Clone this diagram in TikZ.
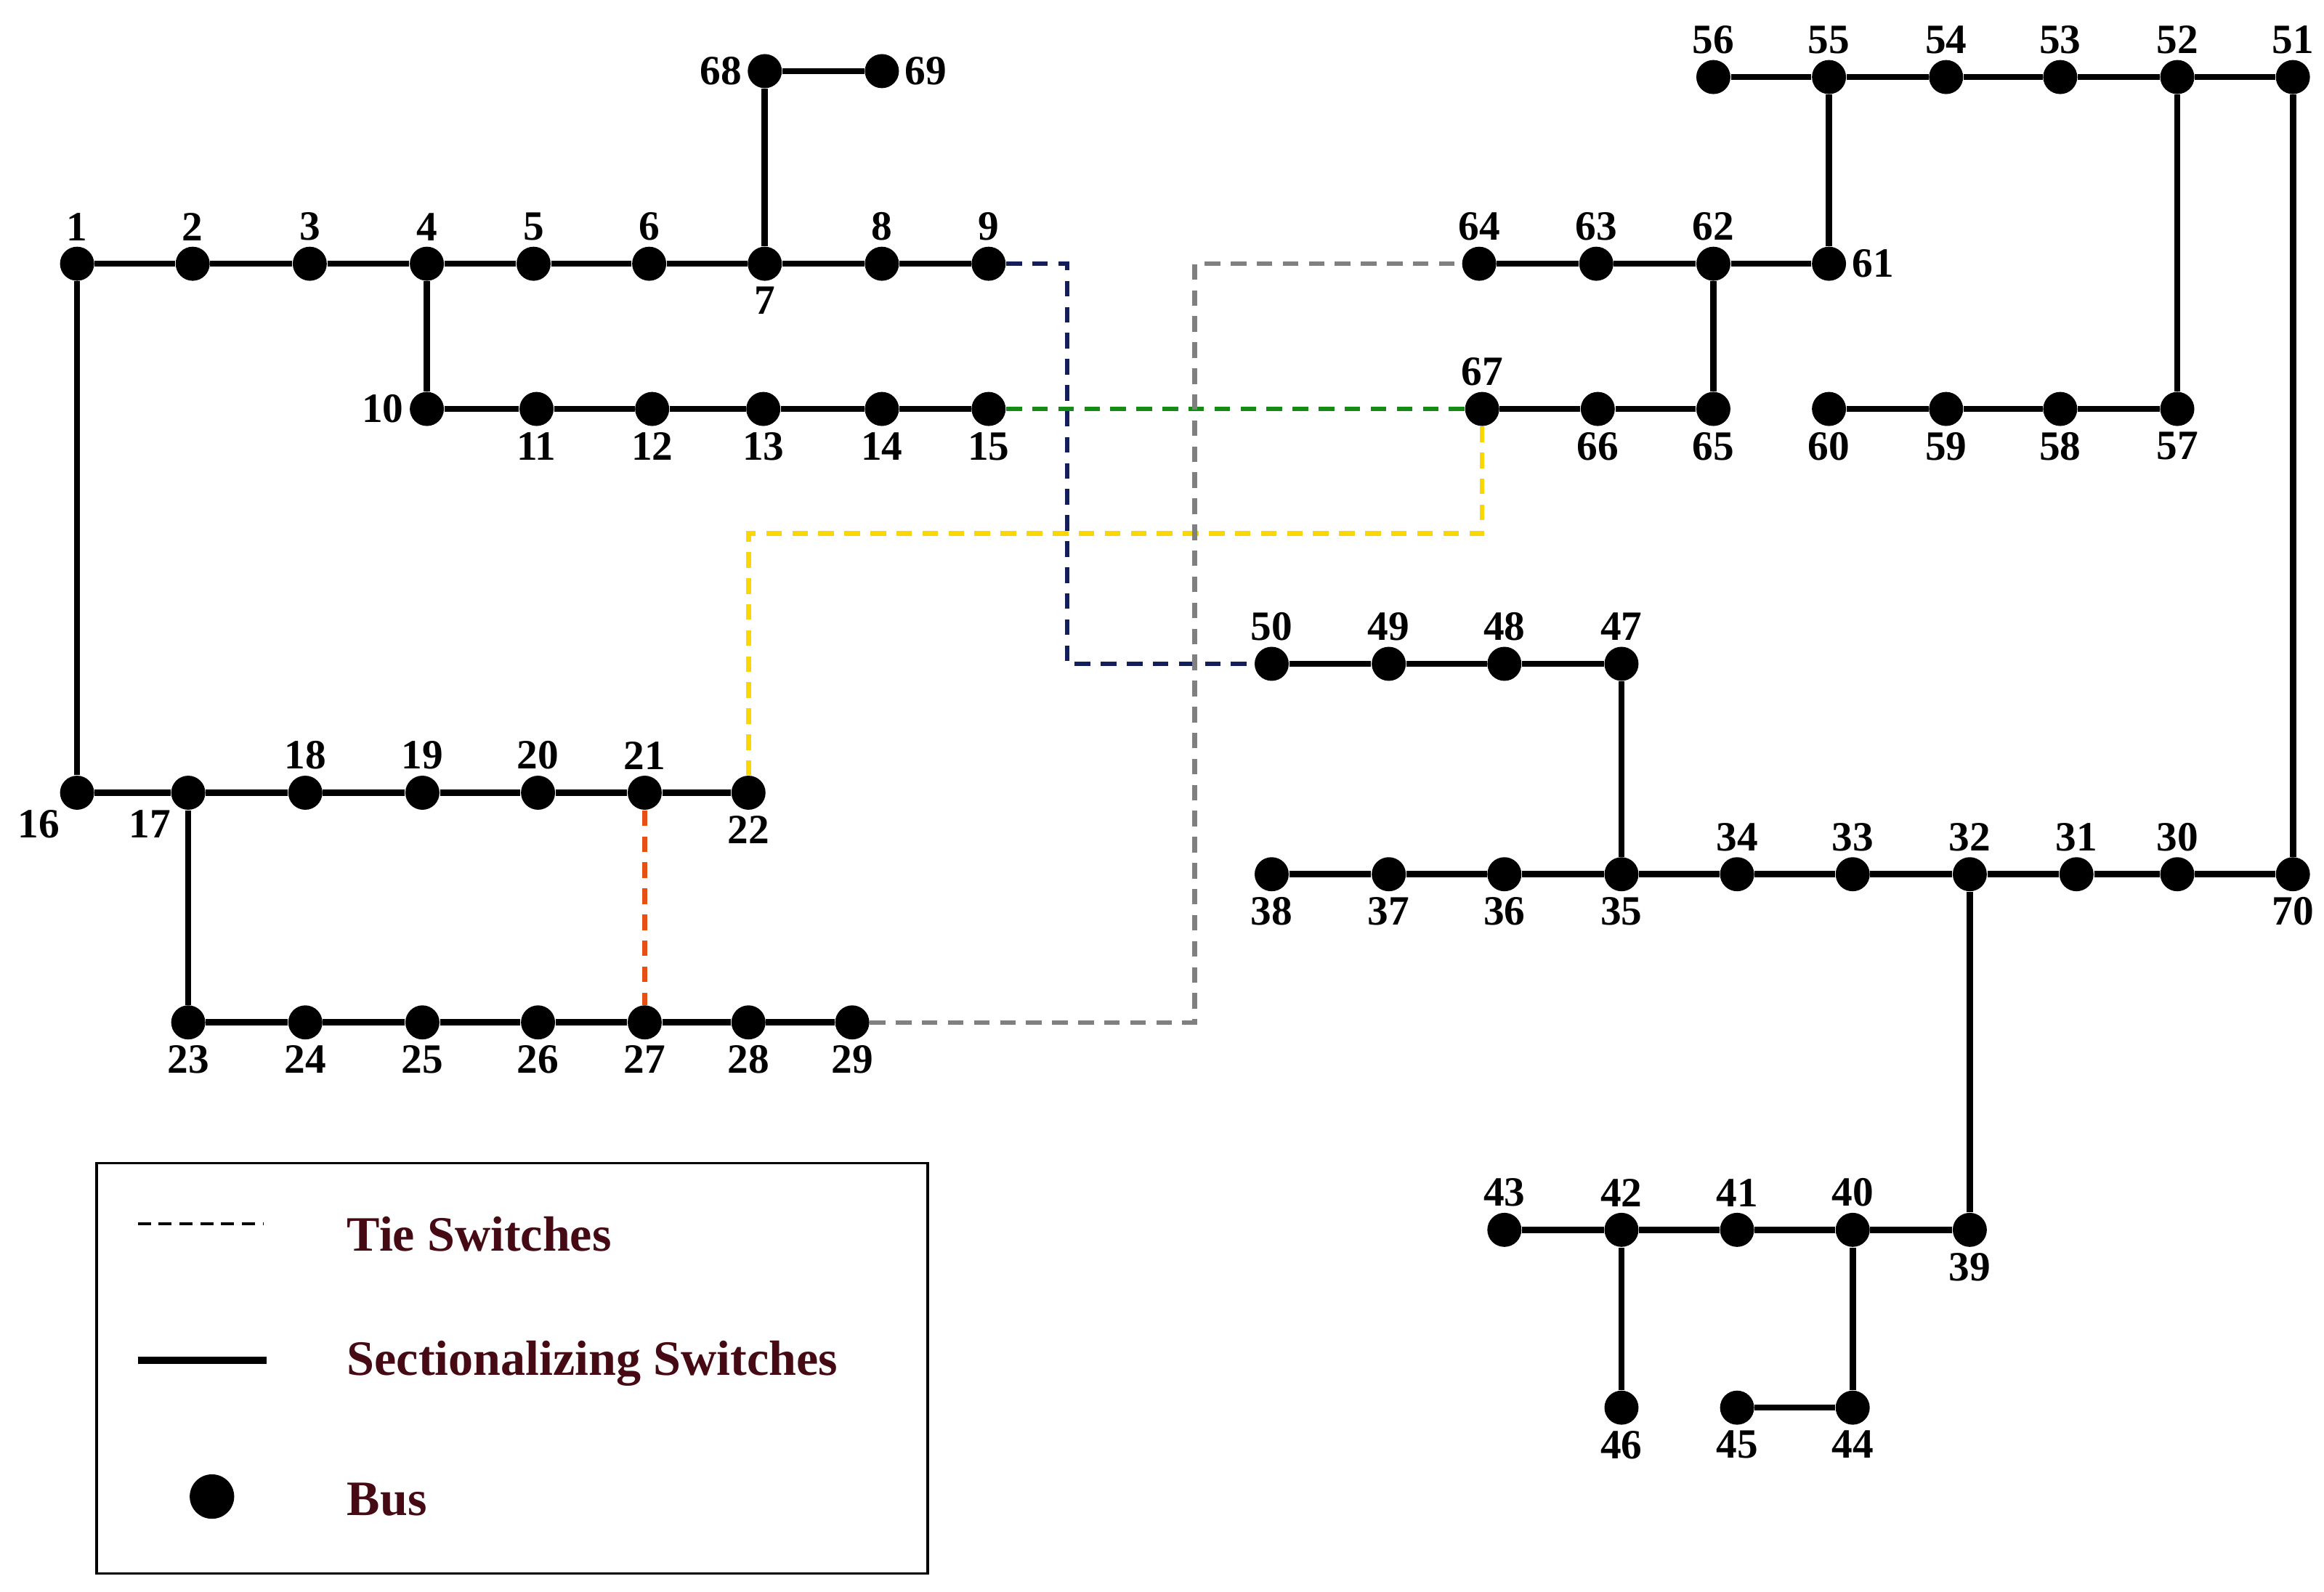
\documentclass[tikz,border=0pt]{standalone}
\usepackage{fontspec}
\setmainfont{Liberation Serif}
\begin{document}
\begin{tikzpicture}[x=0.02cm,y=-0.02cm,
  bus/.style={circle,fill=black,inner sep=0pt,minimum size=0.46cm},
  sec/.style={line width=2.4pt},
  tie/.style={line width=1.8pt,dash pattern=on 6pt off 4pt},
  every label/.style={font=\fontsize{16}{18}\selectfont\bfseries,inner sep=1pt},
  label distance=1pt]
\useasboundingbox (0,0) rectangle (1568,1074);
% buses
\foreach \n/\x/\y/\p in {1/52/178/above,2/130/178/above,3/209/178/above,4/288/178/above,
  5/360/178/above,6/438/178/above,7/516/178/below,8/595/178/above,9/667/178/above,
  68/516/48/left,69/595/48/right,
  10/288/276/left,11/362/276/below,12/440/276/below,13/515/276/below,14/595/276/below,15/667/276/below,
  16/52/535/below left,17/127/535/below left,18/206/535/above,19/285/535/above,20/363/535/above,21/435/535/above,22/505/535/below,
  23/127/690/below,24/206/690/below,25/285/690/below,26/363/690/below,27/435/690/below,28/505/690/below,29/575/690/below,
  50/858/448/above,49/937/448/above,48/1015/448/above,47/1094/448/above,
  38/858/590/below,37/937/590/below,36/1015/590/below,35/1094/590/below,34/1172/590/above,
  33/1250/590/above,32/1329/590/above,31/1401/590/above,30/1469/590/above,70/1547/590/below,
  43/1015/830/above,42/1094/830/above,41/1172/830/above,40/1250/830/above,39/1329/830/below,
  46/1094/950/below,45/1172/950/below,44/1250/950/below,
  64/998/178/above,63/1077/178/above,62/1156/178/above,61/1234/178/right,
  67/1000/276/above,66/1078/276/below,65/1156/276/below,
  60/1234/276/below,59/1313/276/below,58/1390/276/below,57/1469/276/below,
  56/1156/52/above,55/1234/52/above,54/1313/52/above,53/1390/52/above,52/1469/52/above,51/1547/52/above}
  \node[bus,label=\p:\n] (b\n) at (\x,\y) {};
% sectionalizing switches
\draw[sec] (b1) -- (b2) -- (b3) -- (b4) -- (b5) -- (b6) -- (b7) -- (b8) -- (b9);
\draw[sec] (b7) -- (b68) -- (b69);
\draw[sec] (b4) -- (b10) -- (b11) -- (b12) -- (b13) -- (b14) -- (b15);
\draw[sec] (b1) -- (b16) -- (b17) -- (b18) -- (b19) -- (b20) -- (b21) -- (b22);
\draw[sec] (b17) -- (b23) -- (b24) -- (b25) -- (b26) -- (b27) -- (b28) -- (b29);
\draw[sec] (b50) -- (b49) -- (b48) -- (b47) -- (b35);
\draw[sec] (b38) -- (b37) -- (b36) -- (b35) -- (b34) -- (b33) -- (b32) -- (b31) -- (b30) -- (b70) -- (b51);
\draw[sec] (b51) -- (b52) -- (b53) -- (b54) -- (b55) -- (b56);
\draw[sec] (b52) -- (b57) -- (b58) -- (b59) -- (b60);
\draw[sec] (b55) -- (b61) -- (b62) -- (b63) -- (b64);
\draw[sec] (b62) -- (b65) -- (b66) -- (b67);
\draw[sec] (b32) -- (b39) -- (b40) -- (b41) -- (b42) -- (b43);
\draw[sec] (b42) -- (b46);
\draw[sec] (b40) -- (b44) -- (b45);
% tie switches
\draw[tie,color={rgb,255:red,20;green,30;blue,90}] (b9) -| (720,448) -- (b50);
\draw[tie,color={rgb,255:red,20;green,140;blue,20}] (b15) -- (b67);
\draw[tie,color={rgb,255:red,250;green,215;blue,0}] (b67) |- (505,360) -- (b22);
\draw[tie,color={rgb,255:red,230;green,80;blue,20}] (b21) -- (b27);
\draw[tie,color=gray] (b29) -| (806,178) -- (b64);
% legend
\node[draw,line width=1pt,minimum width=11.22cm,minimum height=5.54cm] (leg) at (345.5,923.5) {};
\coordinate (t1) at (93,826); \coordinate (t2) at (178,826);
\coordinate (s1) at (93,918); \coordinate (s2) at (180,918);
\draw[line width=1.2pt,dash pattern=on 5pt off 3pt] (t1) -- (t2);
\draw[line width=3pt] (s1) -- (s2);
\node[bus,minimum size=0.6cm] (lb) at (143,1010) {};
\begin{scope}[every node/.style={anchor=west,font=\fontsize{19}{22}\selectfont\bfseries,text={rgb,255:red,70;green,10;blue,20}}]
\node (lt) at (228,833) {Tie Switches};
\node (ls) at (228,920) {Sectionalizing Switches};
\node (lbus) at (228,1012) {Bus};
\end{scope}
\end{tikzpicture}
\end{document}
